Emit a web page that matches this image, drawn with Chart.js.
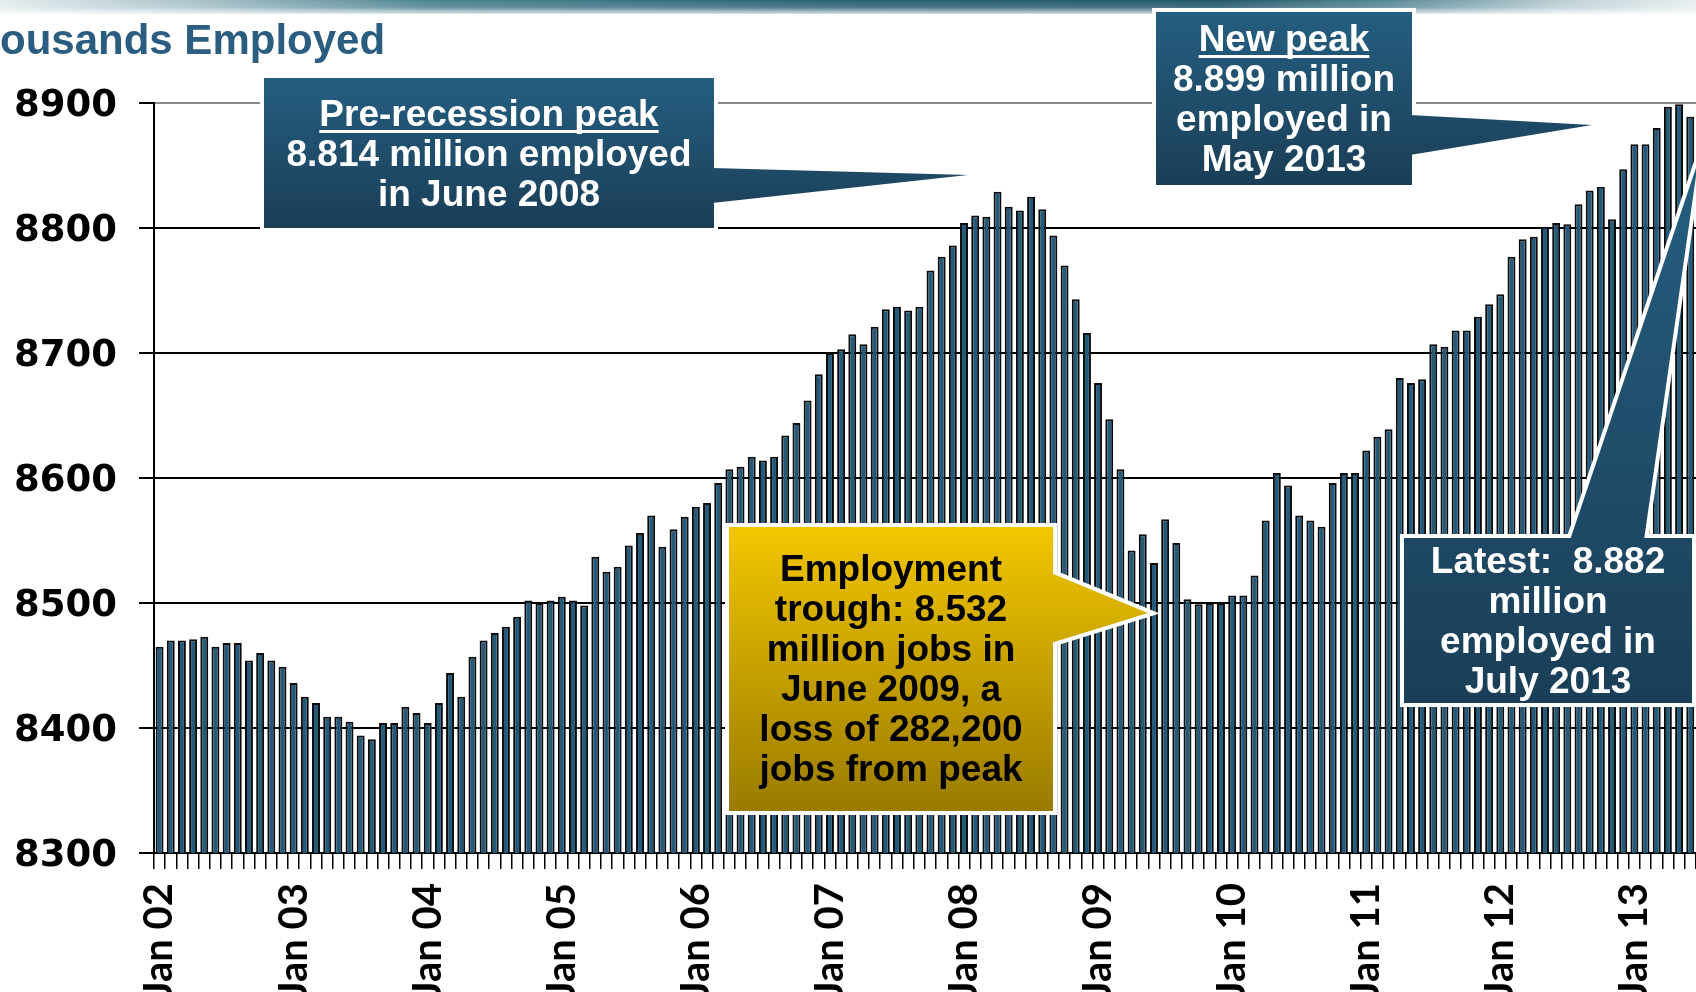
<!DOCTYPE html>
<html>
<head>
<meta charset="utf-8">
<title>Thousands Employed</title>
<script src="https://cdn.jsdelivr.net/npm/chart.js@4.4.1/dist/chart.umd.min.js"></script>
<style>
  html, body { margin: 0; padding: 0; background: #fff; overflow: hidden; }
  body { width: 1696px; height: 992px; position: relative; }
  #chart { position: absolute; left: 0; top: 0; }
</style>
</head>
<body>
<canvas id="chart" width="1712" height="1030"></canvas>
<script>
// Monthly employment, thousands, Jan 2002 - Jul 2013
const years = ['02', '03', '04', '05', '06', '07', '08', '09', '10', '11', '12', '13'];
const monthNames = ['Jan', 'Feb', 'Mar', 'Apr', 'May', 'Jun', 'Jul', 'Aug', 'Sep', 'Oct', 'Nov', 'Dec'];

const employed = [
    8465, 8470, 8470, 8471, 8473, 8465, 8468, 8468, 8454, 8460, 8454, 8449,
    8436, 8425, 8420, 8409, 8409, 8405, 8394, 8391, 8404, 8404, 8417, 8412,
    8404, 8420, 8444, 8425, 8457, 8470, 8476, 8481, 8489, 8502, 8500, 8502,
    8505, 8502, 8498, 8537, 8525, 8529, 8546, 8556, 8570, 8545, 8559, 8569,
    8577, 8580, 8596, 8607, 8609, 8617, 8614, 8617, 8634, 8644, 8662, 8683,
    8700, 8703, 8715, 8707, 8721, 8735, 8737, 8734, 8737, 8766, 8777, 8786,
    8804, 8810, 8809, 8829, 8817, 8814, 8825, 8815, 8794, 8770, 8743, 8716,
    8676, 8647, 8607, 8542, 8555, 8532, 8567, 8548, 8503, 8499, 8500, 8500,
    8506, 8506, 8522, 8566, 8604, 8594, 8570, 8566, 8561, 8596, 8604, 8604,
    8622, 8633, 8639, 8680, 8676, 8679, 8707, 8705, 8718, 8718, 8729, 8739,
    8747, 8777, 8791, 8793, 8801, 8804, 8803, 8819, 8830, 8833, 8807, 8847,
    8867, 8867, 8880, 8897, 8899, 8889, 8882
];

const yTicks = [8300, 8400, 8500, 8600, 8700, 8800, 8900];

const labels = [];
years.forEach(y => monthNames.forEach(m => labels.push(`${m} ${y}`)));
labels.length = employed.length;

const BLUE = ['#255e80', '#1a3e57'];
const GOLD = ['#f2c600', '#9a7b00'];

const callouts = [
    {
        box: { x: 264, y: 78, w: 450, h: 150 },
        pointer: [[712, 168], [968, 175], [712, 203]],
        colors: BLUE, textColor: '#fff',
        cx: 489, top: 126,
        lines: ['Pre-recession peak', '8.814 million employed', 'in June 2008'],
        underline: true
    },
    {
        box: { x: 1156, y: 12, w: 256, h: 173 },
        pointer: [[1410, 115], [1592, 125], [1410, 155]],
        colors: BLUE, textColor: '#fff',
        cx: 1284, top: 51,
        lines: ['New peak', '8.899 million', 'employed in', 'May 2013'],
        underline: true
    },
    {
        box: { x: 729, y: 527, w: 324, h: 284 },
        pointer: [[1051, 573], [1148, 613], [1051, 643]],
        colors: GOLD, textColor: '#000',
        cx: 891, top: 581,
        lines: ['Employment', 'trough: 8.532', 'million jobs in', 'June 2009, a', 'loss of 282,200', 'jobs from peak']
    },
    {
        box: { x: 1404, y: 538, w: 288, h: 165 },
        pointer: [[1570, 540], [1698, 162], [1644, 540]],
        colors: BLUE, textColor: '#fff',
        cx: 1548, top: 573,
        lines: ['Latest:  8.882', 'million', 'employed in', 'July 2013']
    }
];

function drawCallout(ctx, c) {
    const b = c.box;
    const p = c.pointer;
    const tri = () => {
        ctx.beginPath();
        ctx.moveTo(p[0][0], p[0][1]);
        ctx.lineTo(p[1][0], p[1][1]);
        ctx.lineTo(p[2][0], p[2][1]);
        ctx.closePath();
    };

    ctx.save();
    ctx.strokeStyle = '#fff';
    ctx.lineWidth = 8;
    ctx.lineJoin = 'miter';
    ctx.miterLimit = 6;
    ctx.strokeRect(b.x, b.y, b.w, b.h);
    tri();
    ctx.stroke();

    const ys = [b.y, b.y + b.h].concat(p.map(pt => pt[1]));
    const g = ctx.createLinearGradient(0, Math.min(...ys), 0, Math.max(...ys));
    g.addColorStop(0, c.colors[0]);
    g.addColorStop(1, c.colors[1]);
    ctx.fillStyle = g;
    ctx.fillRect(b.x, b.y, b.w, b.h);
    tri();
    ctx.fill();

    ctx.fillStyle = c.textColor;
    ctx.font = 'bold 37px "Liberation Sans", Arial, sans-serif';
    ctx.textAlign = 'center';
    ctx.textBaseline = 'alphabetic';
    c.lines.forEach((line, i) => {
        const y = c.top + i * 40;
        ctx.fillText(line, c.cx, y);
        if (i === 0 && c.underline) {
            const w = ctx.measureText(line).width;
            ctx.fillRect(c.cx - w / 2, y + 4, w, 3);
        }
    });
    ctx.restore();
}

const decor = {
    id: 'decor',
    beforeDraw(chart) {
        const ctx = chart.ctx;
        ctx.save();
        ctx.fillStyle = '#fff';
        ctx.fillRect(0, 0, chart.width, chart.height);

        // header stripe
        const band = ctx.createLinearGradient(0, 0, 1696, 0);
        band.addColorStop(0, '#e4ecee');
        band.addColorStop(0.12, '#a7c1c8');
        band.addColorStop(0.25, '#4d8391');
        band.addColorStop(0.5, '#2a6273');
        band.addColorStop(0.72, '#24586a');
        band.addColorStop(0.82, '#5a8a98');
        band.addColorStop(0.92, '#bccfd4');
        band.addColorStop(1, '#e8eff1');
        ctx.fillStyle = band;
        ctx.fillRect(0, 0, chart.width, 14);
        const fade = ctx.createLinearGradient(0, 0, 0, 16);
        fade.addColorStop(0, 'rgba(255,255,255,0)');
        fade.addColorStop(0.45, 'rgba(255,255,255,0.15)');
        fade.addColorStop(1, '#fff');
        ctx.fillStyle = fade;
        ctx.fillRect(0, 0, chart.width, 16);

        // axis title, running off the left edge
        ctx.font = 'bold 42px "Liberation Sans", Arial, sans-serif';
        ctx.fillStyle = '#2b5d80';
        ctx.textBaseline = 'alphabetic';
        ctx.textAlign = 'left';
        ctx.fillText('Thousands Employed', -ctx.measureText('Th').width, 54);
        ctx.restore();
    },
    afterDraw(chart) {
        callouts.forEach(c => drawCallout(chart.ctx, c));
    }
};

function renderChart() {
    const canvas = document.getElementById('chart');

    new Chart(canvas, {
        type: 'bar',
        data: {
            labels: labels,
            datasets: [{
                data: employed,
                backgroundColor: '#24597a',
                borderColor: '#0b0b0b',
                borderWidth: 2,
                borderSkipped: 'bottom',
                barPercentage: 0.71,
                categoryPercentage: 1
            }]
        },
        options: {
            responsive: false,
            animation: false,
            devicePixelRatio: 1,
            layout: { padding: { top: 103, right: 5, bottom: 0, left: 0 } },
            plugins: {
                legend: { display: false },
                tooltip: { enabled: false }
            },
            scales: {
                x: {
                    grid: {
                        display: true,
                        drawOnChartArea: false,
                        offset: true,
                        tickLength: 16,
                        color: '#000',
                        lineWidth: 1.5
                    },
                    border: { display: true, color: '#000', width: 2 },
                    ticks: {
                        autoSkip: false,
                        minRotation: 90,
                        maxRotation: 90,
                        padding: 14,
                        color: '#000',
                        font: { family: 'Lato', weight: 'bold', size: 40 },
                        callback: (value, index) => labels[index].startsWith('Jan') ? labels[index] : ''
                    },
                    afterFit: scale => {
                        scale.height = 1030 - 853;
                        scale.paddingLeft = 0;
                        scale.paddingRight = 0;
                    }
                },
                y: {
                    min: 8300,
                    max: 8900,
                    afterBuildTicks: scale => {
                        scale.ticks = yTicks.map(v => ({ value: v }));
                    },
                    grid: {
                        color: ctx => ctx.tick && ctx.tick.value === 8900 ? '#8a8a8a' : '#000',
                        tickColor: '#000',
                        lineWidth: 2,
                        tickLength: 15
                    },
                    border: { display: true, color: '#000', width: 2 },
                    ticks: {
                        padding: 22,
                        labelOffset: 3,
                        color: '#000',
                        font: { family: 'DejaVu Sans', weight: 'bold', size: 37 },
                        callback: value => String(value)
                    },
                    afterFit: scale => {
                        scale.width = 154;
                        scale.paddingTop = 0;
                        scale.paddingBottom = 0;
                    }
                }
            }
        },
        plugins: [decor]
    });
}

Promise.all([
    document.fonts.load('bold 40px Lato'),
    document.fonts.load('bold 37px "DejaVu Sans"'),
    document.fonts.load('bold 37px "Liberation Sans"')
]).then(renderChart, renderChart);
</script>
</body>
</html>
